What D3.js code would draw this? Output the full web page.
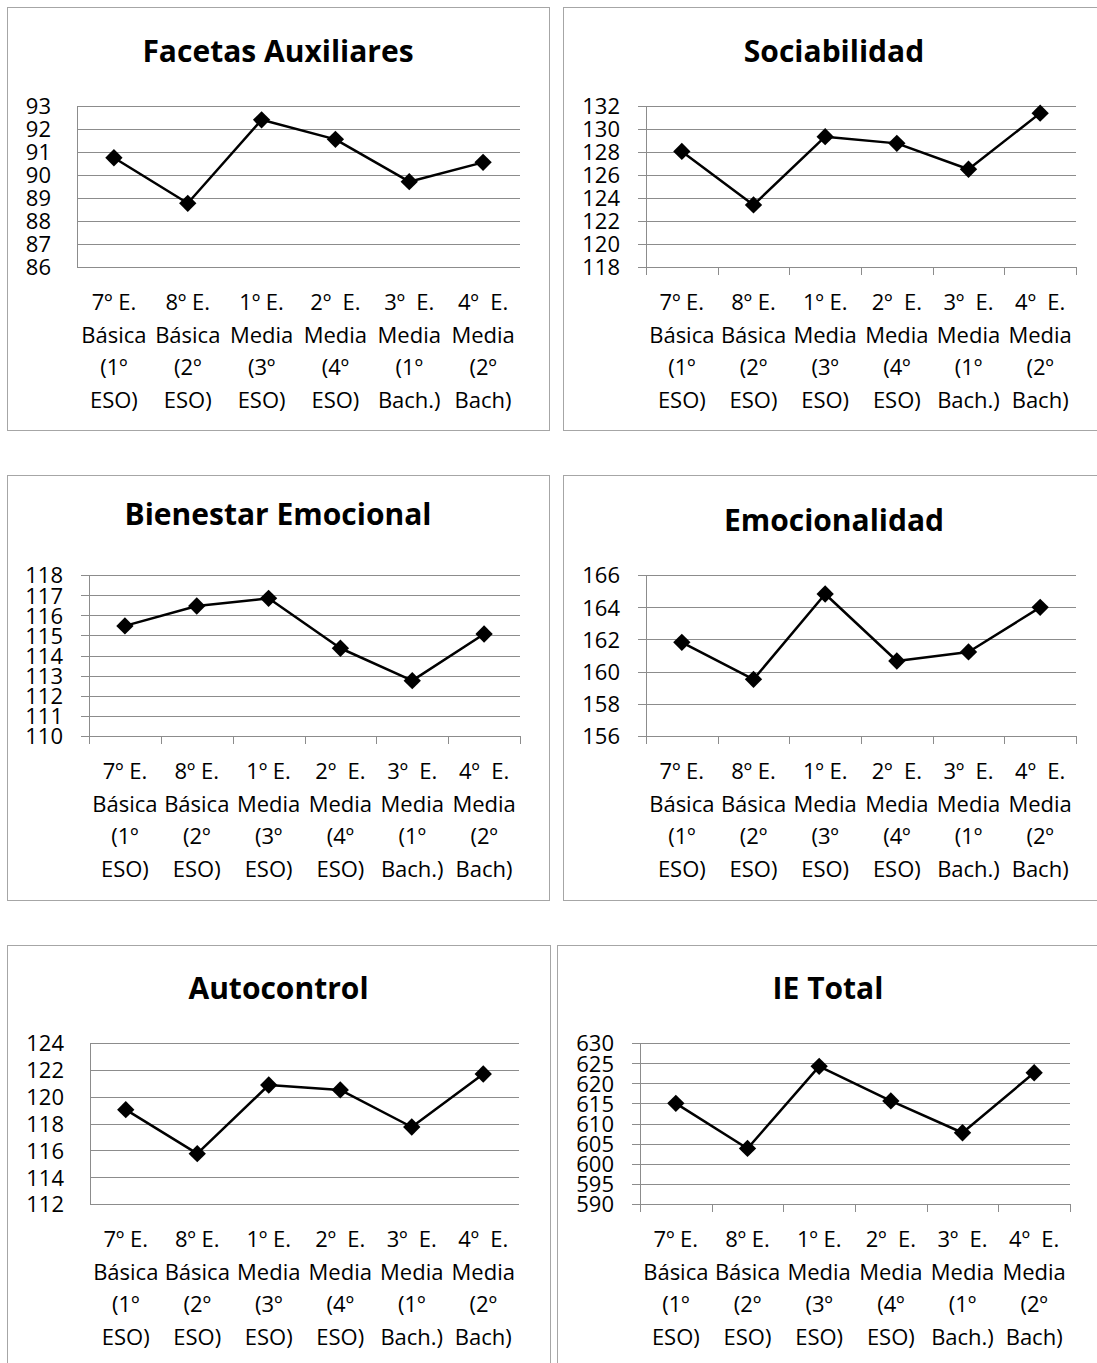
<!DOCTYPE html>
<html><head><meta charset="utf-8">
<script src="https://cdn.jsdelivr.net/npm/d3@7"></script>
<style>
body{margin:0;background:#fff}
svg{display:block}
text{font-family:"Open Sans",sans-serif;fill:#000}
</style>
</head><body>
<svg id="c" width="1097" height="1363"></svg>
<script>
// ---- data ----
const categories = [
  ["7º E.", "Básica", "(1º", "ESO)"],
  ["8º E.", "Básica", "(2º", "ESO)"],
  ["1º E.", "Media", "(3º", "ESO)"],
  ["2º  E.", "Media", "(4º", "ESO)"],
  ["3º  E.", "Media", "(1º", "Bach.)"],
  ["4º  E.", "Media", "(2º", "Bach)"]
];
const titles = ["Facetas Auxiliares", "Sociabilidad", "Bienestar Emocional", "Emocionalidad", "Autocontrol", "IE Total"];

const facetasAuxiliares   = [90.75, 88.77, 92.40, 91.55, 89.71, 90.55];
const sociabilidad        = [128.05, 123.40, 129.33, 128.75, 126.50, 131.38];
const bienestarEmocional  = [115.47, 116.46, 116.84, 114.36, 112.75, 115.07];
const emocionalidad       = [161.82, 159.52, 164.82, 160.66, 161.22, 163.99];
const autocontrol         = [119.03, 115.75, 120.87, 120.50, 117.74, 121.69];
const ieTotal             = [615.0, 603.8, 624.2, 615.6, 607.7, 622.6];

const yTicksFacetas      = [86, 87, 88, 89, 90, 91, 92, 93];
const yTicksSociabilidad = [118, 120, 122, 124, 126, 128, 130, 132];
const yTicksBienestar    = [110, 111, 112, 113, 114, 115, 116, 117, 118];
const yTicksEmocionalidad= [156, 158, 160, 162, 164, 166];
const yTicksAutocontrol  = [112, 114, 116, 118, 120, 122, 124];
const yTicksTotal        = [590, 595, 600, 605, 610, 615, 620, 625, 630];

const seriesList = [facetasAuxiliares, sociabilidad, bienestarEmocional, emocionalidad, autocontrol, ieTotal];
const tickList = [yTicksFacetas, yTicksSociabilidad, yTicksBienestar, yTicksEmocionalidad, yTicksAutocontrol, yTicksTotal];

// ---- layout ----
const layout = [
  {bx:7,   by:7,   bw:542, bh:423, l:77,  r:520,  t:106,  b:267,  ticks:false, ty:62},
  {bx:563, by:7,   bw:542, bh:423, l:646, r:1076, t:106,  b:267,  ticks:true,  ty:62},
  {bx:7,   by:475, bw:542, bh:425, l:89,  r:520,  t:575,  b:736,  ticks:true,  ty:525},
  {bx:563, by:475, bw:542, bh:425, l:646, r:1076, t:575,  b:736,  ticks:true,  ty:531},
  {bx:7,   by:945, bw:543, bh:440, l:90,  r:519,  t:1043, b:1204, ticks:false, ty:999},
  {bx:557, by:945, bw:542, bh:440, l:640, r:1070, t:1043, b:1204, ticks:true,  ty:999}
];

const svg = d3.select("#c");
const gray = "#8c8c8c";

layout.forEach((p, k) => {
  const data = seriesList[k];
  const ticks = tickList[k];
  const g = svg.append("g");

  // panel border
  g.append("rect").attr("x", p.bx + 0.5).attr("y", p.by + 0.5)
    .attr("width", p.bw).attr("height", p.bh)
    .attr("fill", "#fff").attr("stroke", "#a6a6a6").attr("stroke-width", 1);

  // title
  g.append("text").attr("x", p.bx + p.bw / 2).attr("y", p.ty)
    .attr("text-anchor", "middle").style("font-weight", "700").style("font-size", "30px")
    .text(titles[k]);

  const y = d3.scaleLinear().domain(d3.extent(ticks)).range([p.b, p.t]);
  const x = d3.scaleBand().domain(d3.range(categories.length)).range([p.l, p.r]).padding(0);
  const xEdge = d3.scaleLinear().domain([0, categories.length]).range([p.l, p.r]);
  const tl = p.ticks ? 8 : 0;

  // gridlines
  const grid = g.append("g").attr("transform", `translate(${p.l},0)`)
    .call(d3.axisLeft(y).tickValues(ticks).tickSize(-(p.r - p.l)).tickFormat(""));
  grid.select(".domain").remove();
  grid.selectAll(".tick line").attr("stroke", gray).attr("stroke-width", 1)
    .attr("x1", tl > 0 ? -tl : 0).attr("x2", p.r - p.l)
    .attr("shape-rendering", "crispEdges");

  // y labels
  const yl = g.append("g").attr("transform", `translate(${p.l},0)`)
    .call(d3.axisLeft(y).tickValues(ticks).tickSize(0).tickPadding(26).tickFormat(d3.format("d")));
  yl.select(".domain").remove();
  yl.selectAll(".tick text").style("font-size", "22px").attr("dy", "0.36em")
    .style("font-family", '"Open Sans",sans-serif').attr("fill", "#000");

  // left axis line
  g.append("line").attr("x1", p.l).attr("x2", p.l).attr("y1", p.t).attr("y2", p.b + tl)
    .attr("stroke", gray).attr("shape-rendering", "crispEdges");

  // bottom category ticks
  if (p.ticks) {
    const xa = g.append("g").attr("transform", `translate(0,${p.b})`)
      .call(d3.axisBottom(xEdge).tickValues(d3.range(categories.length + 1)).tickSize(8).tickFormat(""));
    xa.select(".domain").remove();
    xa.selectAll(".tick line").attr("stroke", gray).attr("shape-rendering", "crispEdges");
  }

  // x labels
  const lab = g.append("g");
  categories.forEach((lines, i) => {
    const t = lab.append("text").attr("text-anchor", "middle")
      .style("font-size", "22px").style("white-space", "pre").attr("xml:space", "preserve");
    lines.forEach((s, j) => {
      t.append("tspan").attr("x", x(i) + x.bandwidth() / 2)
        .attr("y", p.b + 43 + j * 32.5).text(s);
    });
  });

  // line
  const line = d3.line().x((d, i) => x(i) + x.bandwidth() / 2).y(d => y(d));
  g.append("path").datum(data).attr("d", line)
    .attr("fill", "none").attr("stroke", "#000").attr("stroke-width", 2.5).attr("stroke-linejoin", "round");

  // markers
  const sym = d3.symbol().type(d3.symbolSquare).size(150);
  g.selectAll("path.m").data(data).enter().append("path").attr("class", "m")
    .attr("d", sym)
    .attr("transform", (d, i) => `translate(${x(i) + x.bandwidth() / 2},${y(d)}) rotate(45)`)
    .attr("fill", "#000");
});
</script>
</body></html>
